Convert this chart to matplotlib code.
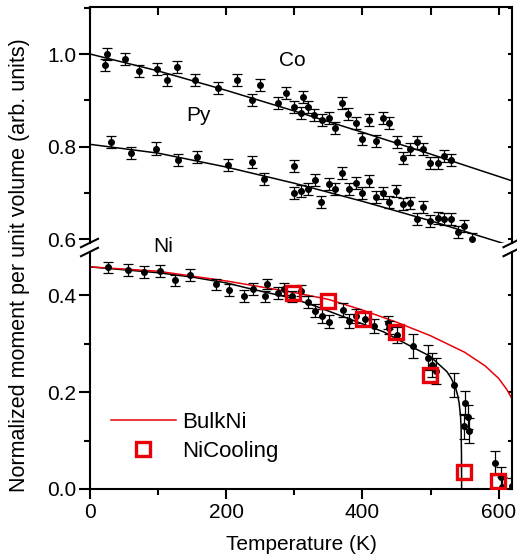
import matplotlib
matplotlib.use("Agg")
import matplotlib.pyplot as plt
from matplotlib.lines import Line2D
from matplotlib.ticker import MultipleLocator

plt.rcParams['font.family'] = ['Liberation Sans', 'DejaVu Sans']

# Co data (top panel)
co_t = [22, 25.5, 51.9, 72.4, 98.4, 113, 128.2, 153.7, 188, 215.4, 238.3, 249.6,
        275.6, 287.3, 300, 312.3, 309.4, 320.1, 329.4, 340.7, 350.5, 360.3, 370,
        379.3, 390.1, 399.9, 410.1, 419.5, 430.7, 439.5, 450.3, 460.1, 469.9,
        480.2, 489.4, 499.7, 510.6, 520.3, 530.1]
co_m = [0.977, 1.001, 0.989, 0.964, 0.968, 0.944, 0.972, 0.943, 0.927, 0.944,
        0.901, 0.933, 0.895, 0.915, 0.886, 0.908, 0.873, 0.886, 0.868, 0.857,
        0.861, 0.840, 0.894, 0.870, 0.852, 0.816, 0.857, 0.813, 0.862, 0.852,
        0.811, 0.776, 0.795, 0.809, 0.795, 0.764, 0.765, 0.780, 0.771]

# Py data (top panel)
py_t = [30.8, 60.2, 97, 128.8, 157.6, 203, 237.4, 256, 299.1, 299.1, 309.8,
        319.7, 330.4, 339.7, 350.5, 360.3, 370, 380.3, 390.1, 399.9, 409.7, 420,
        429.8, 439.5, 449.3, 460.1, 469.9, 479.7, 489.4, 499.7, 510.6, 520.3,
        530.1, 539.9, 549.7, 560.5]
py_m = [0.811, 0.787, 0.796, 0.771, 0.778, 0.760, 0.766, 0.730, 0.758, 0.700,
        0.704, 0.708, 0.728, 0.680, 0.719, 0.708, 0.744, 0.708, 0.721, 0.700,
        0.726, 0.692, 0.700, 0.681, 0.704, 0.676, 0.678, 0.644, 0.669, 0.640,
        0.647, 0.644, 0.644, 0.615, 0.629, 0.600]

# Ni data (bottom panel)
ni_t = [26.9, 55.3, 79.3, 102.8, 124.8, 146.8, 185, 203.7, 226.6, 239, 257,
        259.4, 275.6, 285.3, 296.2, 309.4, 320.6, 330.4, 340.2, 350.5, 371,
        380.8, 390.6, 403.8, 417.5, 438, 439.5, 450.3, 473.9, 495.9, 501.8,
        507.6, 534.5, 550.7, 549.7, 555.6, 556.6, 594.7, 603, 605.5, 619.2]
ni_m = [0.457, 0.452, 0.447, 0.450, 0.430, 0.441, 0.422, 0.410, 0.398, 0.412,
        0.397, 0.422, 0.404, 0.412, 0.397, 0.409, 0.386, 0.368, 0.357, 0.345,
        0.369, 0.346, 0.357, 0.350, 0.336, 0.343, 0.333, 0.318, 0.295, 0.271,
        0.256, 0.244, 0.214, 0.178, 0.129, 0.148, 0.120, 0.054, 0.024, 0.005,
        0.007]
ni_err = [0.012, 0.012, 0.012, 0.012, 0.012, 0.012, 0.012, 0.012, 0.012, 0.012,
          0.012, 0.010, 0.012, 0.012, 0.012, 0.012, 0.012, 0.014, 0.014, 0.014,
          0.014, 0.014, 0.014, 0.014, 0.014, 0.014, 0.014, 0.016, 0.025, 0.025,
          0.025, 0.027, 0.025, 0.025, 0.025, 0.025, 0.026, 0.025, 0.022, 0.020,
          0.015]

# Ni cooling (red squares)
cool_t = [297.6, 350, 400.4, 449.3, 499.3, 549.2, 599.6]
cool_m = [0.4035, 0.388, 0.350, 0.3245, 0.235, 0.036, 0.017]

# fit curves
cofit_t = [0, 100, 200, 300, 400, 500, 620]
cofit_m = [1.0, 0.9635, 0.9215, 0.877, 0.831, 0.784, 0.726]
pyfit_t = [0, 100, 200, 300, 400, 500, 620]
pyfit_m = [0.805, 0.786, 0.756, 0.721, 0.682, 0.640, 0.585]
nifit_t = [0, 50, 100, 150, 200, 235, 298, 333, 382, 431, 470, 499, 524,
           530, 536, 540, 542, 544, 544.8, 545.4, 545.6]
nifit_m = [0.458, 0.452, 0.446, 0.437, 0.425, 0.413, 0.393, 0.376, 0.350,
           0.324, 0.295, 0.274, 0.242, 0.229, 0.212, 0.192, 0.177, 0.150,
           0.128, 0.07, 0.0]
bulk_t = [0, 100, 200, 250, 300, 350, 400, 450, 500, 550, 580, 600, 612, 620]
bulk_m = [0.458, 0.449, 0.429, 0.417, 0.405, 0.391, 0.369, 0.344, 0.316,
          0.282, 0.254, 0.228, 0.205, 0.185]

W, H = 517, 557
fig = plt.figure(figsize=(W / 100, H / 100), dpi=100)


def fx(px):
    return px / W


def fy(py):
    return 1 - py / H


ax_l, ax_r = 90, 512.3
top = fig.add_axes([fx(ax_l), fy(243), fx(ax_r - ax_l), (243 - 7) / H])
bot = fig.add_axes([fx(ax_l), fy(489), fx(ax_r - ax_l), (489 - 252) / H])

ebkw = dict(fmt='o', color='black', ms=4, elinewidth=0.9, capsize=3.3,
            capthick=0.9, zorder=3)
top.plot(cofit_t, cofit_m, color='black', lw=1.1, zorder=2)
top.plot(pyfit_t, pyfit_m, color='black', lw=1.1, zorder=2)
top.errorbar(co_t, co_m, yerr=0.013, **ebkw)
top.errorbar(py_t, py_m, yerr=0.013, **ebkw)

bot.plot(nifit_t, nifit_m, color='black', lw=1.1, zorder=2)
bot.plot(bulk_t, bulk_m, color='#e8000b', lw=1.1, zorder=2.5)
bot.errorbar(ni_t, ni_m, yerr=ni_err, **ebkw)
bot.plot(cool_t, cool_m, 's', ms=10, mfc='none', mec='#e8000b', mew=2.4,
         zorder=4)

top.set_xlim(0, 620)
bot.set_xlim(0, 620)
top.set_ylim(0.592, 1.1015)
bot.set_ylim(0, 0.4887)

for ax in (top, bot):
    for s in ax.spines.values():
        s.set_linewidth(1.5)
    ax.yaxis.set_major_locator(MultipleLocator(0.2))
    ax.yaxis.set_minor_locator(MultipleLocator(0.1))
    ax.tick_params(axis='y', which='major', direction='out', length=8,
                   width=1.5, labelsize=15, pad=2)
    ax.tick_params(axis='y', which='minor', direction='out', length=4.5,
                   width=1.5)
    ax.tick_params(axis='y', which='both', right=True)
    ax.yaxis.set_major_formatter(matplotlib.ticker.FormatStrFormatter('%.1f'))

top.spines['bottom'].set_visible(False)
bot.spines['top'].set_visible(False)

top.xaxis.set_major_locator(MultipleLocator(100))
top.tick_params(axis='x', which='both', bottom=False, labelbottom=False,
                top=True, direction='in', length=6, width=1.5)
bot.xaxis.set_major_locator(MultipleLocator(200))
bot.xaxis.set_minor_locator(MultipleLocator(100))
bot.tick_params(axis='x', which='major', direction='out', length=7,
                width=1.5, labelsize=15, pad=3)
bot.tick_params(axis='x', which='minor', direction='out', length=4,
                width=1.5)
bot.tick_params(axis='x', which='both', top=False)

# right-hand ticks point inward
for ax in (top, bot):
    for t in ax.yaxis.get_major_ticks() + ax.yaxis.get_minor_ticks():
        t.tick2line.set_marker(matplotlib.lines.TICKLEFT)
        t.tick2line.set_markersize(3)

# axis break marks
for x0 in (81, 503.5):
    for yc in (243, 252):
        fig.add_artist(Line2D([fx(x0), fx(x0 + 17)], [fy(yc + 4.2), fy(yc - 4.2)],
                              color='black', lw=1.5))

top.text(0.478, 0.775, 'Co', transform=top.transAxes, fontsize=15,
         ha='center', va='center')
top.text(0.258, 0.542, 'Py', transform=top.transAxes, fontsize=15,
         ha='center', va='center')
fig.text(fx(163), fy(246), 'Ni', fontsize=15, ha='center', va='center')

fig.text(fx(20), fy(265), 'Normalized moment per unit volume (arb. units)',
         rotation=90, fontsize=15.5, ha='center', va='center')
fig.text(fx(301), fy(545), 'Temperature (K)', fontsize=15, ha='center',
         va='center')

handles = [Line2D([], [], color='#e8000b', lw=1.1),
           Line2D([], [], marker='s', ls='none', ms=10, mfc='none',
                  mec='#e8000b', mew=2.4)]
bot.legend(handles, ['BulkNi', 'NiCooling'], loc='upper left',
           bbox_to_anchor=(0.05, 0.325), frameon=False, fontsize=16,
           handlelength=2.9, handletextpad=0.3, labelspacing=0.35,
           borderpad=0, borderaxespad=0)

fig.savefig('out.png', dpi=100)
